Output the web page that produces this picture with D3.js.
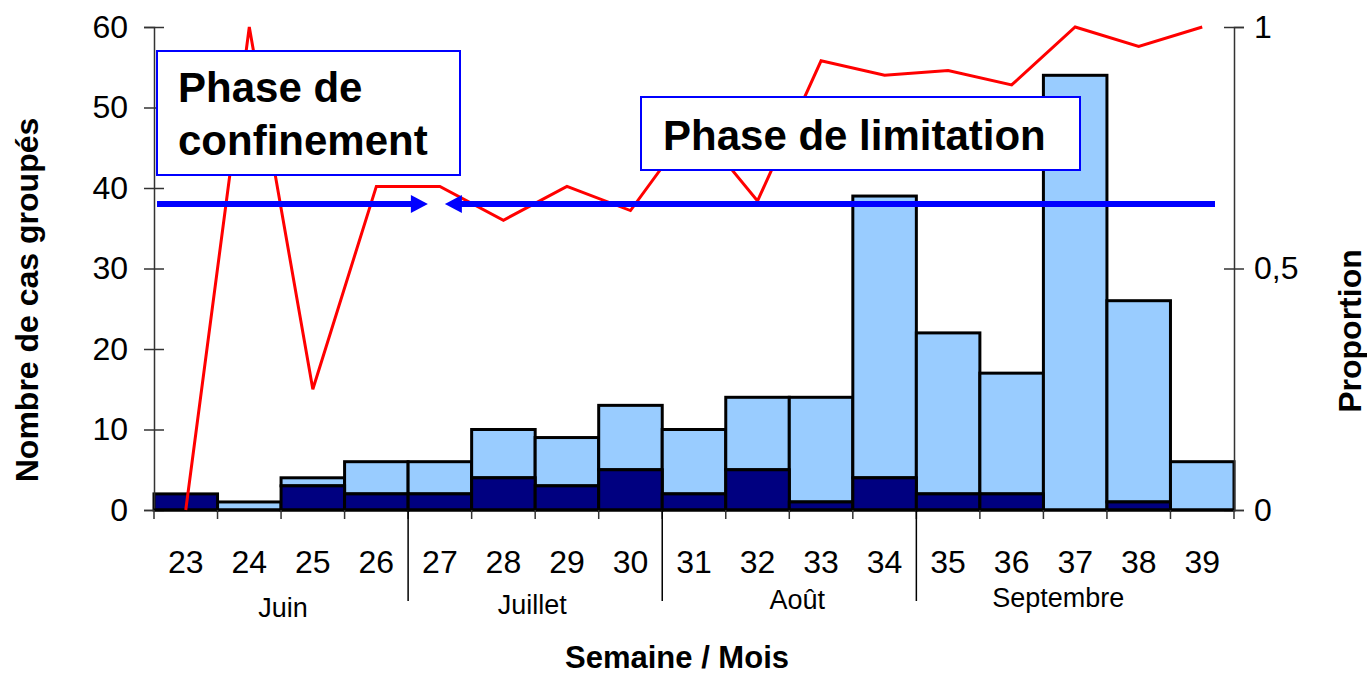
<!DOCTYPE html>
<html>
<head>
<meta charset="utf-8">
<script src="https://cdn.jsdelivr.net/npm/d3@7"></script>
<style>
  body { margin: 0; background: #fff; }
  text { font-family: Arial, "Liberation Sans", sans-serif; }
</style>
</head>
<body>
<div></div>
<script>
// weeks 23 to 39, grouped cases per week
var weeks = ["23", "24", "25", "26", "27", "28", "29", "30", "31", "32", "33", "34", "35", "36", "37", "38", "39"];
var totalCases = [2, 1, 4, 6, 6, 10, 9, 13, 10, 14, 14, 39, 22, 17, 54, 26, 6];
var darkCases = [2, 0, 3, 2, 2, 4, 3, 5, 2, 5, 1, 4, 2, 2, 0, 1, 0];
var proportion = [0, 1, 0.25, 0.67, 0.67, 0.6, 0.67, 0.62, 0.8, 0.64, 0.93, 0.9, 0.91, 0.88, 1, 0.96, 1];

var monthNames = ["Juin", "Juillet", "Août", "Septembre"];
var monthFirstWeek = ["23", "27", "31", "35"];
var monthLastWeek = ["26", "30", "34", "39"];

var leftTicks = [0, 10, 20, 30, 40, 50, 60];
var rightTicks = [0, 0.5, 1];

var phaseLevel = 38;       // height of the phase arrows, left axis units
var phaseSwitchWeek = "27";

var width = 1367;
var height = 677;

var svg = d3.select("div")
	.append("svg")
	.attr("width", width)
	.attr("height", height);

var x = d3.scaleBand().domain(weeks).range([154, 1234]).padding(0);
var y = d3.scaleLinear().domain([0, 60]).range([510, 27]);
var yRight = d3.scaleLinear().domain([0, 1]).range([510, 27]);
var bw = x.bandwidth();

var rows = weeks.map((w, i) => ({ week: w, total: totalCases[i], dark: darkCases[i], prop: proportion[i] }));

// bars: light part on top, dark part at the bottom
var bars = svg.append("g");

bars.selectAll("rect.light")
	.data(rows.filter(d => d.total > d.dark))
	.enter()
	.append("rect")
	.attr("class", "light")
	.attr("x", d => x(d.week))
	.attr("y", d => y(d.total))
	.attr("width", bw)
	.attr("height", d => y(d.dark) - y(d.total))
	.attr("fill", "#99ccff")
	.attr("stroke", "#000")
	.attr("stroke-width", 3);

bars.selectAll("rect.dark")
	.data(rows.filter(d => d.dark > 0))
	.enter()
	.append("rect")
	.attr("class", "dark")
	.attr("x", d => x(d.week))
	.attr("y", d => y(d.dark))
	.attr("width", bw)
	.attr("height", d => y(0) - y(d.dark))
	.attr("fill", "#000080")
	.attr("stroke", "#000")
	.attr("stroke-width", 3);

// left axis
var leftAxis = svg.append("g")
	.attr("transform", "translate(154,0)")
	.call(d3.axisLeft(y).tickValues(leftTicks).tickSize(10).tickPadding(16));
leftAxis.select(".domain").attr("stroke", "#333").attr("stroke-width", 1.5);
leftAxis.selectAll(".tick line").attr("x1", 10).attr("stroke", "#333").attr("stroke-width", 1.5);
leftAxis.selectAll(".tick text").attr("font-size", 32).attr("fill", "#000")
	.style("font-family", "Arial, 'Liberation Sans', sans-serif");

// right axis
var rightAxis = svg.append("g")
	.attr("transform", "translate(1234,0)")
	.call(d3.axisRight(yRight).tickValues(rightTicks).tickSize(10).tickPadding(10)
		.tickFormat(d => String(d).replace(".", ",")));
rightAxis.select(".domain").attr("stroke", "#333").attr("stroke-width", 1.5);
rightAxis.selectAll(".tick line").attr("x1", -10).attr("stroke", "#333").attr("stroke-width", 1.5);
rightAxis.selectAll(".tick text").attr("font-size", 32).attr("fill", "#000")
	.style("font-family", "Arial, 'Liberation Sans', sans-serif");

// bottom axis: baseline, boundary ticks and week labels
var bottom = svg.append("g");
bottom.append("line")
	.attr("x1", 154).attr("x2", 1234)
	.attr("y1", y(0)).attr("y2", y(0))
	.attr("stroke", "#000").attr("stroke-width", 3);

var edges = weeks.map(w => x(w)).concat([x.range()[1]]);
bottom.selectAll("line.tick")
	.data(edges)
	.enter()
	.append("line")
	.attr("x1", d => d).attr("x2", d => d)
	.attr("y1", y(0)).attr("y2", y(0) + 9)
	.attr("stroke", "#333").attr("stroke-width", 1.5);

bottom.selectAll("text.week")
	.data(weeks)
	.enter()
	.append("text")
	.attr("x", d => x(d) + bw / 2)
	.attr("y", 573)
	.attr("text-anchor", "middle")
	.attr("font-size", 32)
	.text(d => d);

// month separators and labels
bottom.selectAll("line.month")
	.data(monthFirstWeek.slice(1))
	.enter()
	.append("line")
	.attr("x1", d => x(d)).attr("x2", d => x(d))
	.attr("y1", y(0)).attr("y2", 601)
	.attr("stroke", "#000").attr("stroke-width", 1.5);

// Excel did not centre the month labels exactly
var monthBaseline = [617, 614, 609, 607];
var monthShift = [2, -3, 8, -17];
bottom.selectAll("text.month")
	.data(monthNames)
	.enter()
	.append("text")
	.attr("x", (d, i) => (x(monthFirstWeek[i]) + x(monthLastWeek[i]) + bw) / 2 + monthShift[i])
	.attr("y", (d, i) => monthBaseline[i])
	.attr("text-anchor", "middle")
	.attr("font-size", 27)
	.text(d => d);

// proportion line
var line = d3.line()
	.x(d => x(d.week) + bw / 2)
	.y(d => yRight(d.prop));

svg.append("path")
	.datum(rows)
	.attr("d", line)
	.attr("fill", "none")
	.attr("stroke", "#ff0000")
	.attr("stroke-width", 3)
	.attr("stroke-linejoin", "miter");

// phase arrows
var arrowY = y(phaseLevel);
var mid = x(phaseSwitchWeek) + bw / 2;
var leftTip = mid - 12;
var rightTip = mid + 5;

var arrows = svg.append("g");
arrows.append("line")
	.attr("x1", 157).attr("x2", leftTip - 14)
	.attr("y1", arrowY).attr("y2", arrowY)
	.attr("stroke", "#0000ff").attr("stroke-width", 6);
arrows.append("path")
	.attr("d", `M${leftTip},${arrowY} L${leftTip - 17},${arrowY - 9} L${leftTip - 17},${arrowY + 9} Z`)
	.attr("fill", "#0000ff");
arrows.append("line")
	.attr("x1", rightTip + 14).attr("x2", 1215)
	.attr("y1", arrowY).attr("y2", arrowY)
	.attr("stroke", "#0000ff").attr("stroke-width", 6);
arrows.append("path")
	.attr("d", `M${rightTip},${arrowY} L${rightTip + 17},${arrowY - 9} L${rightTip + 17},${arrowY + 9} Z`)
	.attr("fill", "#0000ff");

// phase boxes
var box1 = svg.append("g");
box1.append("rect")
	.attr("x", 157).attr("y", 51).attr("width", 303).attr("height", 124)
	.attr("fill", "#fff").attr("stroke", "#0000ff").attr("stroke-width", 2);
box1.append("text")
	.attr("x", 178).attr("y", 102)
	.attr("font-size", 42).attr("font-weight", "bold")
	.text("Phase de");
box1.append("text")
	.attr("x", 178).attr("y", 155)
	.attr("font-size", 42).attr("font-weight", "bold")
	.text("confinement");

var box2 = svg.append("g");
box2.append("rect")
	.attr("x", 641).attr("y", 97).attr("width", 439).attr("height", 73)
	.attr("fill", "#fff").attr("stroke", "#0000ff").attr("stroke-width", 2);
box2.append("text")
	.attr("x", 663).attr("y", 150)
	.attr("font-size", 42).attr("font-weight", "bold")
	.text("Phase de limitation");

// axis titles
svg.append("text")
	.attr("transform", "translate(38,300) rotate(-90)")
	.attr("text-anchor", "middle")
	.attr("font-size", 32).attr("font-weight", "bold")
	.text("Nombre de cas groupés");

svg.append("text")
	.attr("transform", "translate(1361,331) rotate(-90)")
	.attr("text-anchor", "middle")
	.attr("font-size", 32).attr("font-weight", "bold")
	.text("Proportion");

svg.append("text")
	.attr("x", 677).attr("y", 668)
	.attr("text-anchor", "middle")
	.attr("font-size", 31).attr("font-weight", "bold")
	.text("Semaine / Mois");
</script>
</body>
</html>
